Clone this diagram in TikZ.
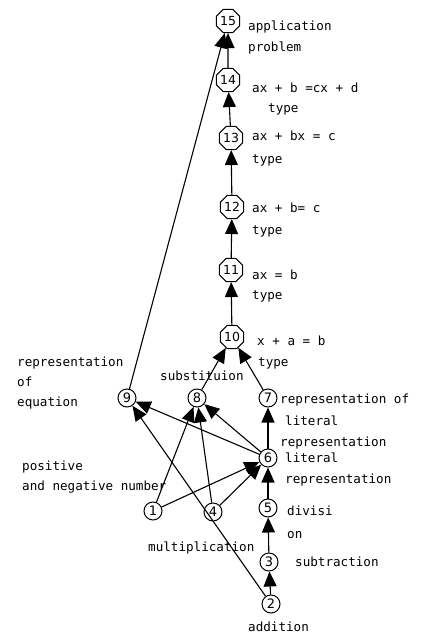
\documentclass[tikz,border=0pt]{standalone}
\usepackage{fontspec}
\setmainfont{DejaVu Sans}
\newfontfamily\labfont{DejaVu Sans Mono}
\usetikzlibrary{arrows.meta,shapes.geometric}
\tikzset{
  circ/.style={circle,draw,line width=1pt,minimum size=18pt,inner sep=0pt,font=\fontsize{13}{13}\selectfont},
  octa/.style={regular polygon,regular polygon sides=8,draw,line width=1pt,minimum size=25pt,inner sep=0pt,font=\fontsize{12.5}{13}\selectfont},
  lab/.style={anchor=west,inner sep=0pt,text height=9pt,text depth=3pt,font=\labfont\fontsize{12.6}{14}\selectfont},
  arr/.style={line width=1.1pt,-{Triangle[length=15pt,width=13pt]}},
}
\begin{document}
\begin{tikzpicture}[x=1pt,y=-1pt]
\useasboundingbox (0,0) rectangle (426,636);
% nodes
\node[octa] (n15) at (228,21) {15};
\node[octa] (n14) at (228,80) {14};
\node[octa] (n13) at (231,138) {13};
\node[octa] (n12) at (232,207) {12};
\node[octa] (n11) at (231,270) {11};
\node[octa] (n10) at (232,337) {10};
\node[circ] (n9) at (127,398) {9};
\node[circ] (n8) at (197,398) {8};
\node[circ] (n7) at (268,398) {7};
\node[circ] (n6) at (268,458) {6};
\node[circ] (n5) at (268,508) {5};
\node[circ] (n4) at (213,512) {4};
\node[circ] (n1) at (153,511) {1};
\node[circ] (n3) at (269,562) {3};
\node[circ] (n2) at (271,604) {2};
% labels
\node[lab] (l15a) at (248,28) {application};
\node[lab] (l15b) at (248,49) {problem};
\node[lab] (l14a) at (252,90) {ax + b =cx + d};
\node[lab] (l14b) at (268,110) {type};
\node[lab] (l13a) at (252,138) {ax + bx = c};
\node[lab] (l13b) at (252,161) {type};
\node[lab] (l12a) at (252,209) {ax + b= c};
\node[lab] (l12b) at (252,231) {type};
\node[lab] (l11a) at (252,276) {ax = b};
\node[lab] (l11b) at (252,296) {type};
\node[lab] (l10a) at (257,342) {x + a = b};
\node[lab] (l10b) at (258,363) {type};
\node[lab] (l9a) at (17,363) {representation};
\node[lab] (l9b) at (17,383) {of};
\node[lab] (l9c) at (17,403) {equation};
\node[lab] (l8) at (160,377) {substituion};
\node[lab] (l7a) at (280,400) {representation of};
\node[lab] (l7b) at (285,422) {literal};
\node[lab] (l6a) at (280,443) {representation};
\node[lab] (l6b) at (285,459) {literal};
\node[lab] (l6c) at (285,480) {representation};
\node[lab] (l5a) at (287,512) {divisi};
\node[lab] (l5b) at (287,535) {on};
\node[lab] (l3) at (295,563) {subtraction};
\node[lab] (l2) at (248,628) {addition};
\node[lab] (l4) at (148,548) {multiplication};
\node[lab] (l1a) at (22,467) {positive};
\node[lab] (l1b) at (22,487) {and negative number};
% edges
\draw[arr] (n14) -- (n15);
\draw[arr] (n13) -- (n14);
\draw[arr] (n12) -- (n13);
\draw[arr] (n11) -- (n12);
\draw[arr] (n10) -- (n11);
\draw[arr] (n8) -- (n10);
\draw[arr] (n7) -- (n10);
\draw[arr] (n9) -- (n15);
\draw[arr] (n6) -- (n7);
\draw[arr] (n5) -- (n6);
\draw[arr] (n3) -- (n5);
\draw[arr] (n2) -- (n3);
\draw[arr] (n6) -- (n9);
\draw[arr] (n6) -- (n8);
\draw[arr] (n1) -- (n8);
\draw[arr] (n4) -- (n8);
\draw[arr] (n1) -- (n6);
\draw[arr] (n4) -- (n6);
\draw[arr] (n2) -- (n9);
\end{tikzpicture}
\end{document}
